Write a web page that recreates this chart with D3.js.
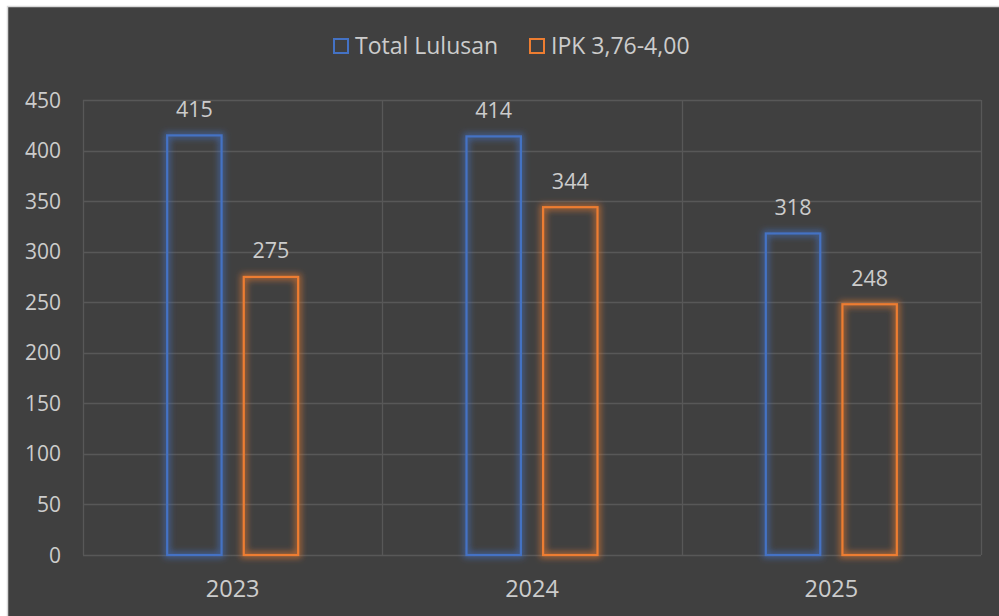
<!DOCTYPE html>
<html>
<head>
<meta charset="utf-8">
<script src="https://cdn.jsdelivr.net/npm/d3@7"></script>
<style>
  html, body { margin: 0; padding: 0; background: #fff; }
  svg text { font-family: "Open Sans", sans-serif; fill: #cccccc; }
</style>
</head>
<body>
<div id="chart"></div>
<script>
// chart data
const years = ["2023", "2024", "2025"];
const seriesNames = ["Total Lulusan", "IPK 3,76-4,00"];
const totalLulusan = [415, 414, 318];
const ipkTinggi = [275, 344, 248];
const yTicks = [0, 50, 100, 150, 200, 250, 300, 350, 400, 450];
const colors = ["#4472C4", "#ED7D31"];

const W = 999, H = 616;
const plot = {left: 83, right: 981, top: 100, bottom: 555};

const svg = d3.select("#chart").append("svg")
    .attr("width", W)
    .attr("height", H);

// glow filters, one per series
const defs = svg.append("defs");
colors.forEach((c, i) => {
    let f = defs.append("filter")
        .attr("id", "glow" + i)
        .attr("x", "-50%").attr("y", "-50%")
        .attr("width", "200%").attr("height", "200%");
    f.append("feMorphology")
        .attr("in", "SourceGraphic")
        .attr("operator", "dilate")
        .attr("radius", 1.5)
        .attr("result", "thick");
    f.append("feGaussianBlur")
        .attr("in", "thick")
        .attr("stdDeviation", 3)
        .attr("result", "blur");
    f.append("feComponentTransfer")
        .attr("in", "blur")
        .attr("result", "soft")
      .append("feFuncA")
        .attr("type", "linear")
        .attr("slope", 0.6);
    let m = f.append("feMerge");
    m.append("feMergeNode").attr("in", "soft");
    m.append("feMergeNode").attr("in", "SourceGraphic");
});

// chart area background + frame
svg.append("rect")
    .attr("x", 7.5).attr("y", 6.5)
    .attr("width", W + 20).attr("height", H + 20)
    .attr("fill", "#404040")
    .attr("stroke", "#d9d9d9")
    .attr("stroke-width", 1.5);

const x = d3.scaleBand()
    .domain(years)
    .range([plot.left, plot.right])
    .padding(0);

const x1 = d3.scaleBand()
    .domain(seriesNames)
    .range([-65.5, 65.5])
    .paddingInner(0.29);

const y = d3.scaleLinear()
    .domain([0, 450])
    .range([plot.bottom, plot.top]);

// gridlines
const grid = svg.append("g").attr("class", "grid");
grid.selectAll("line.h")
    .data(yTicks)
    .join("line")
    .attr("class", "h")
    .attr("x1", plot.left).attr("x2", plot.right)
    .attr("y1", d => Math.round(y(d)) + 0.5)
    .attr("y2", d => Math.round(y(d)) + 0.5)
    .attr("stroke", "#585858")
    .attr("stroke-width", 1.3);

const bounds = years.map(d => x(d)).concat([plot.right]);
grid.selectAll("line.v")
    .data(bounds)
    .join("line")
    .attr("class", "v")
    .attr("x1", d => Math.round(d) + 0.5).attr("x2", d => Math.round(d) + 0.5)
    .attr("y1", plot.top).attr("y2", plot.bottom)
    .attr("stroke", "#585858")
    .attr("stroke-width", 1.3);

// y axis labels
svg.append("g")
    .selectAll("text")
    .data(yTicks)
    .join("text")
    .attr("x", 61)
    .attr("y", d => y(d))
    .attr("dy", "0.36em")
    .attr("text-anchor", "end")
    .attr("font-size", 21)
    .text(d => d);

// x axis labels
svg.append("g")
    .selectAll("text")
    .data(years)
    .join("text")
    .attr("x", d => x(d) + x.bandwidth() / 2)
    .attr("y", 597)
    .attr("text-anchor", "middle")
    .attr("font-size", 23.5)
    .text(d => d);

// bars
const rows = [];
years.forEach((yr, i) => {
    rows.push({year: yr, s: 0, value: totalLulusan[i]});
    rows.push({year: yr, s: 1, value: ipkTinggi[i]});
});

const barsG = svg.append("g");
barsG.selectAll("rect")
    .data(rows)
    .join("rect")
    .attr("x", d => x(d.year) + x.bandwidth() / 2 + x1(seriesNames[d.s]))
    .attr("y", d => y(d.value))
    .attr("width", x1.bandwidth())
    .attr("height", d => y(0) - y(d.value))
    .attr("fill", "none")
    .attr("stroke", d => colors[d.s])
    .attr("stroke-width", 2.2)
    .attr("filter", d => "url(#glow" + d.s + ")");

// value labels
svg.append("g")
    .selectAll("text")
    .data(rows)
    .join("text")
    .attr("x", d => x(d.year) + x.bandwidth() / 2 + x1(seriesNames[d.s]) + x1.bandwidth() / 2)
    .attr("y", d => y(d.value) - 18.5)
    .attr("text-anchor", "middle")
    .attr("font-size", 21.5)
    .text(d => d.value);

// legend
const legendX = [333, 529];
const legend = svg.append("g");
seriesNames.forEach((name, i) => {
    legend.append("rect")
        .attr("x", legendX[i] + 1).attr("y", 39)
        .attr("width", 14).attr("height", 14)
        .attr("fill", "none")
        .attr("stroke", colors[i])
        .attr("stroke-width", 2);
    legend.append("text")
        .attr("x", legendX[i] + 22)
        .attr("y", 54)
        .attr("font-size", 23)
        .text(name);
});
</script>
</body>
</html>
